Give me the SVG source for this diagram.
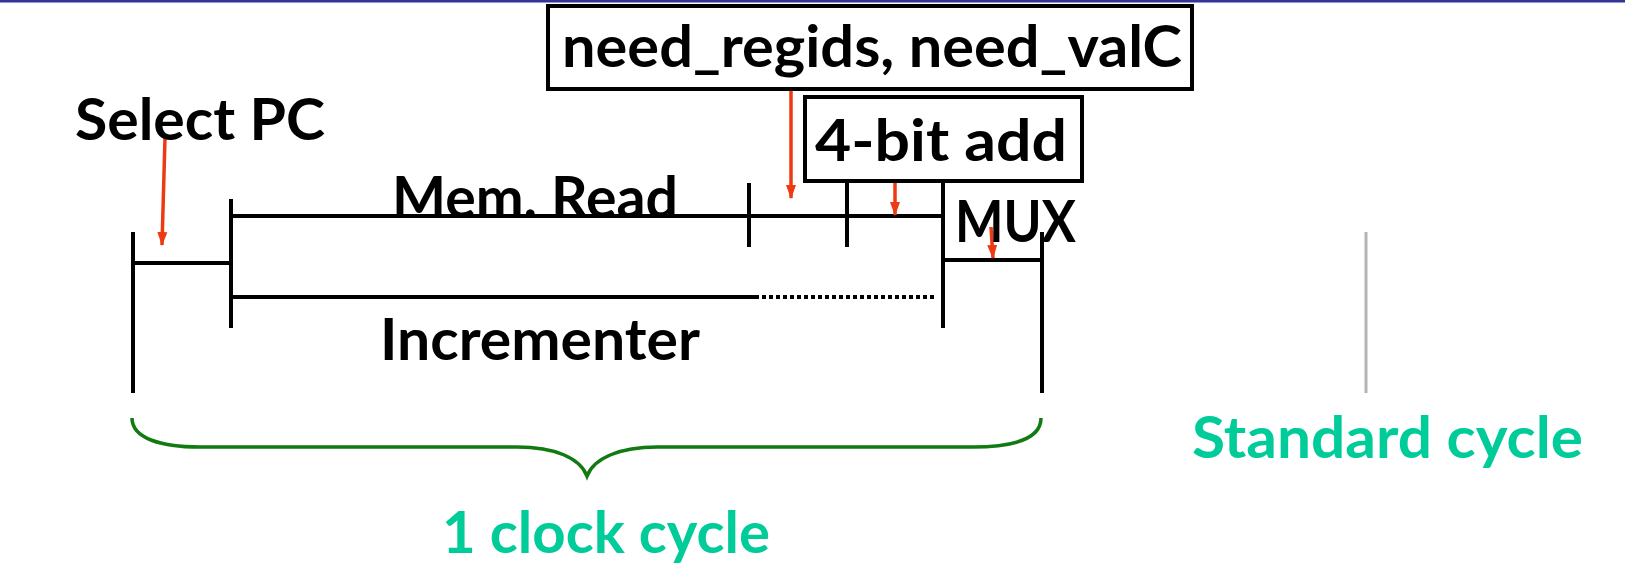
<svg xmlns="http://www.w3.org/2000/svg" width="1625" height="571" viewBox="0 0 1625 571">
<style>
.t{font-family:"Comic Sans MS","Lato","DejaVu Sans",sans-serif;font-weight:bold;font-size:57px;fill:#000}
.g{fill:#00cc99}
.ln{stroke:#000;stroke-width:4;fill:none}
.box{stroke:#000;stroke-width:4;fill:#fff}
.ar{stroke:#ee3a12;stroke-width:3.5;fill:none;marker-end:url(#ah)}
</style>
<defs>
<marker id="ah" markerUnits="userSpaceOnUse" markerWidth="14" markerHeight="14" viewBox="0 0 14 14" refX="13" refY="7" orient="auto">
<path d="M0,2 L14,7 L0,12 Z" fill="#ee3a12"/>
</marker>
</defs>
<rect width="1625" height="571" fill="#fff"/>
<line x1="0" y1="1" x2="1625" y2="1" stroke="#333399" stroke-width="3"/>
<g id="connectors">
<line class="ln" x1="133" y1="232" x2="133" y2="393"/>
<line class="ln" x1="133" y1="263" x2="231" y2="263"/>
<line class="ln" x1="231" y1="199" x2="231" y2="328"/>
<line class="ln" x1="231" y1="216" x2="943" y2="216"/>
<line class="ln" x1="231" y1="297" x2="755" y2="297"/>
<line x1="755" y1="297" x2="937" y2="297" stroke="#000" stroke-width="4" stroke-dasharray="4 3"/>
<line class="ln" x1="749" y1="183" x2="749" y2="247"/>
<line class="ln" x1="847" y1="181" x2="847" y2="247"/>
<line class="ln" x1="943" y1="181" x2="943" y2="328"/>
<line class="ln" x1="943" y1="260" x2="1042" y2="260"/>
<line class="ln" x1="1042" y1="232" x2="1042" y2="393"/>
<line x1="1366" y1="232" x2="1366" y2="393" stroke="#b3b3b3" stroke-width="3"/>
<line class="ar" x1="165" y1="138" x2="162" y2="245"/>
<line class="ar" x1="791" y1="90" x2="791" y2="198"/>
<line class="ar" x1="895" y1="163" x2="895" y2="215"/>
<line class="ar" x1="991" y1="227" x2="993" y2="258"/>
<path d="M132,418 C132,438 160,447 200,447 L517,447 C555,447 580,458 587,476 C594,458 620,447 657,447 L973,447 C1010,447 1041,440 1041,418" fill="none" stroke="#117a11" stroke-width="3.5"/>
</g>
<g id="select-pc"><text class="t" x="75" y="140" textLength="250" lengthAdjust="spacingAndGlyphs">Select PC</text></g>
<g id="need-regids">
<rect class="box" x="548" y="6" width="644" height="83"/>
<text class="t" x="562" y="67" textLength="620" lengthAdjust="spacingAndGlyphs">need_regids, need_valC</text>
</g>
<g id="four-bit-add">
<rect class="box" x="805" y="97" width="277" height="84"/>
<text class="t" x="815" y="161" textLength="252" lengthAdjust="spacingAndGlyphs">4-bit add</text>
</g>
<g id="mem-read"><text class="t" x="392" y="218" textLength="286" lengthAdjust="spacingAndGlyphs">Mem. Read</text></g>
<g id="mux"><text class="t" x="955" y="242" textLength="121" lengthAdjust="spacingAndGlyphs">MUX</text></g>
<g id="incrementer"><text class="t" x="380" y="360" textLength="320" lengthAdjust="spacingAndGlyphs">Incrementer</text></g>
<g id="clock-cycle"><text class="t g" x="442" y="553" textLength="328" lengthAdjust="spacingAndGlyphs">1 clock cycle</text></g>
<g id="standard-cycle"><text class="t g" x="1192" y="458" textLength="391" lengthAdjust="spacingAndGlyphs">Standard cycle</text></g>
</svg>
